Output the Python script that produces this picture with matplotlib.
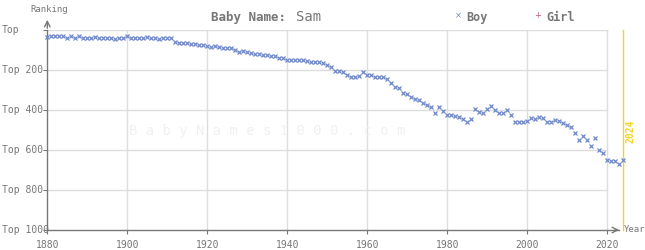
import matplotlib.pyplot as plt

# Ranking of the name "Sam" (boys), one point per year
anos = list(range(1880, 2025))
ranking_boy = [
    37, 32, 32, 32, 32, 38, 32, 38, 32, 42,   # 1880-1889
    42, 42, 37, 42, 42, 42, 42, 47, 42, 42,   # 1890-1899
    32, 42, 42, 42, 42, 37, 42, 42, 47, 42,   # 1900-1909
    40, 42, 60, 67, 67, 67, 72, 72, 77, 77,   # 1910-1919
    82, 87, 82, 87, 92, 92, 92, 102, 112, 107,  # 1920-1929
    112, 117, 122, 122, 127, 127, 132, 132, 142, 142,  # 1930-1939
    150, 150, 150, 150, 150, 155, 162, 162, 162, 167,  # 1940-1949
    175, 187, 207, 203, 212, 227, 237, 237, 232, 212,  # 1950-1959
    227, 227, 237, 237, 237, 247, 267, 287, 292, 317,  # 1960-1969
    322, 337, 347, 352, 367, 377, 387, 417, 387, 407,  # 1970-1979
    427, 427, 432, 437, 447, 462, 447, 397, 412, 417,  # 1980-1989
    397, 382, 402, 417, 417, 402, 427, 462, 462, 462,  # 1990-1999
    457, 442, 447, 437, 442, 462, 462, 452, 457, 467,  # 2000-2009
    477, 487, 517, 552, 532, 552, 582, 542, 602, 617,  # 2010-2019
    652, 657, 657, 672, 652,                           # 2020-2024
]
ticks_x = [1880, 1900, 1920, 1940, 1960, 1980, 2000, 2020]
ticks_y = [0, 200, 400, 600, 800, 1000]
labels_y = ["Top", "Top 200", "Top 400", "Top 600", "Top 800", "Top 1000"]

cinza = "#777777"
grade = "#dddddd"
azul = "#7088c8"
fonte = "DejaVu Sans Mono"

W, H = 645, 250
fig = plt.figure(figsize=(6.45, 2.5), dpi=100)
ax = fig.add_axes([47.3 / W, 20 / H, 572 / W, 200 / H])
ax.set_xlim(1880, 2023)
ax.set_ylim(1000, 0)

# grade
for a in ticks_x[1:]:
    ax.plot([a, a], [0, 1000], color=grade, lw=1, zorder=0)
for r in ticks_y[:-1]:
    ax.plot([1880, 2020], [r, r], color=grade, lw=1, zorder=0)

# marca d'agua
ax.text(1935, 505, " ".join("BabyNames1000.com"), fontsize=10, color="#f1f1f1",
        family=fonte, ha="center", va="center", zorder=0)

# ano atual
ax.plot([2024, 2024], [0, 1000], color="#f5d327", lw=1, clip_on=False, zorder=1)
ax.text(2025.9, 505, "2024", rotation=90, color="#f5d327", fontsize=7,
        family=fonte, ha="center", va="center", fontweight="bold")

ax.plot(anos, ranking_boy, ls="none", marker="x", ms=2.3, mew=0.9,
        color=azul, clip_on=False, zorder=3)

for s in ["top", "right"]:
    ax.spines[s].set_visible(False)
for s in ["left", "bottom"]:
    ax.spines[s].set_color(cinza)
    ax.spines[s].set_linewidth(1)

ax.set_xticks(ticks_x)
ax.set_xticklabels([str(a) for a in ticks_x], family=fonte, fontsize=7, color=cinza)
ax.set_yticks(ticks_y)
ax.set_yticklabels([])
ax.tick_params(axis="y", length=3, color=cinza)
ax.tick_params(axis="x", length=3, color=cinza, pad=4)

# rotulos do eixo y, alinhados a esquerda
for r, txt in zip(ticks_y, labels_y):
    y_px = 30 + r * 0.2
    fig.text(2 / W, 1 - y_px / H, txt, fontsize=7, family=fonte, color=cinza,
             ha="left", va="center")

# setas dos eixos
ax.annotate("", xy=(47.3 / W, 1 - 17 / H), xytext=(47.3 / W, 1 - 31 / H),
            xycoords="figure fraction", textcoords="figure fraction",
            arrowprops=dict(arrowstyle="->", color=cinza, lw=1))
fig.text(49 / W, 1 - 9 / H, "Ranking", fontsize=6.5, family=fonte,
         color=cinza, ha="center", va="center")
ax.annotate("", xy=(622 / W, 20 / H), xytext=(612 / W, 20 / H),
            xycoords="figure fraction", textcoords="figure fraction",
            arrowprops=dict(arrowstyle="->", color=cinza, lw=1))
fig.text(624 / W, 20 / H, "Year", fontsize=6.5, family=fonte,
         color=cinza, ha="left", va="center")

# titulo e legenda
fig.text(286 / W, 1 - 17 / H, "Baby Name:", fontsize=9, family=fonte,
         fontweight="bold", color=cinza, ha="right", va="center")
fig.text(296 / W, 1 - 17 / H, "Sam", fontsize=10, family=fonte,
         color=cinza, ha="left", va="center")
fig.text(458 / W, 1 - 16 / H, "×", fontsize=6, color=azul, ha="center", va="center")
fig.text(466 / W, 1 - 17 / H, "Boy", fontsize=8.5, family=fonte,
         fontweight="bold", color=cinza, ha="left", va="center")
fig.text(538 / W, 1 - 16 / H, "+", fontsize=6, color="#c0587a", ha="center", va="center")
fig.text(546 / W, 1 - 17 / H, "Girl", fontsize=8.5, family=fonte,
         fontweight="bold", color=cinza, ha="left", va="center")

plt.savefig("out.png", dpi=100)
